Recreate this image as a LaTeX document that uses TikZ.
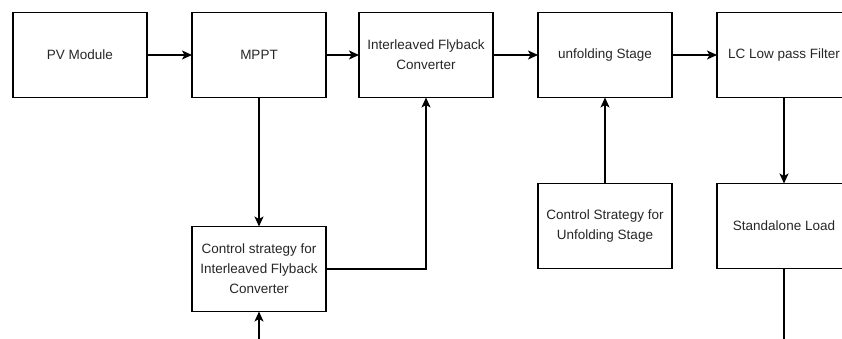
\documentclass[tikz,border=0pt]{standalone}
\usepackage{fontspec}
\setmainfont{Liberation Sans}
\usetikzlibrary{arrows.meta,positioning}

\begin{document}
\begin{tikzpicture}[font=\fontsize{13.5}{20}\selectfont,>={Stealth[length=10pt,width=9pt,inset=2.5pt]},
  blk/.style={draw,line width=1.2pt,minimum width=134pt,minimum height=85pt,outer sep=0pt,align=center,inner sep=2pt,text=black!85},
  link/.style={line width=1.2pt,->}]
\useasboundingbox (0,0) rectangle (842pt,-339pt);
\clip (0,0) rectangle (842pt,-339pt);
\node[blk] (pv) at (80pt,-55pt) {PV Module};
\node[blk,right=45pt of pv] (mppt) {MPPT};
\node[blk,right=33pt of mppt] (ifc) {Interleaved Flyback\\Converter};
\node[blk,right=45pt of ifc] (unf) {unfolding Stage};
\node[blk,right=45pt of unf] (lpf) {LC Low pass Filter};
\node[blk,below=129pt of mppt] (ctlifc) {Control strategy for\\Interleaved Flyback\\Converter};
\node[blk,below=86pt of unf] (ctlunf) {Control Strategy for\\Unfolding Stage};
\node[blk,below=86pt of lpf] (load) {Standalone Load};
\coordinate[below=40pt of ctlifc.south] (fbin);
\coordinate[below=80pt of load.south] (loadout);
\draw[link] (pv) -- (mppt);
\draw[link] (mppt) -- (ifc);
\draw[link] (ifc) -- (unf);
\draw[link] (unf) -- (lpf);
\draw[link] (mppt) -- (ctlifc);
\draw[link] (ctlifc) -| (ifc);
\draw[link] (ctlunf) -- (unf);
\draw[link] (lpf) -- (load);
\draw[line width=1.2pt] (load) -- (loadout);
\draw[link] (fbin) -- (ctlifc);
\end{tikzpicture}
\end{document}
